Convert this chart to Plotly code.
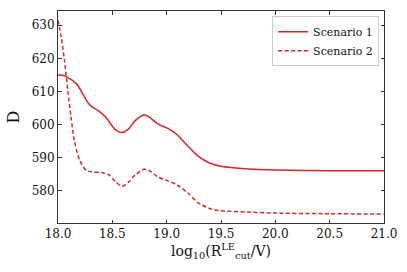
import plotly.graph_objects as go

x1 = [18.0, 18.04, 18.08, 18.17, 18.29, 18.38, 18.44, 18.53, 18.59, 18.65, 18.71, 18.79, 18.83, 18.92, 19.0, 19.08, 19.17, 19.29, 19.39, 19.5, 19.75, 20.0, 20.5, 21.0]
y1 = [615.0, 614.9, 614.4, 612.3, 606.0, 604.0, 602.2, 598.4, 597.6, 598.7, 601.2, 602.9, 602.5, 600.2, 599.0, 597.4, 594.4, 590.5, 588.5, 587.4, 586.6, 586.3, 586.1, 586.1]

x2 = [18.0, 18.03, 18.06, 18.09, 18.12, 18.15, 18.2, 18.26, 18.32, 18.41, 18.47, 18.53, 18.59, 18.65, 18.71, 18.79, 18.83, 18.92, 19.0, 19.1, 19.2, 19.29, 19.42, 19.5, 19.75, 20.0, 20.5, 21.0]
y2 = [631.5, 626.3, 619.3, 610.3, 602.2, 595.3, 589.2, 586.2, 585.7, 585.5, 584.8, 582.7, 581.4, 582.7, 584.8, 586.5, 586.3, 584.2, 583.2, 581.7, 579.2, 576.4, 574.4, 574.0, 573.6, 573.3, 573.1, 573.0]

names = ["Scenario 1", "Scenario 2"]
red = "#d62728"
font = "DejaVu Serif"

fig = go.Figure()
fig.add_trace(go.Scatter(x=x1, y=y1, mode="lines", name=names[0],
                         line=dict(color=red, width=1.5, shape="spline", smoothing=0.8)))
fig.add_trace(go.Scatter(x=x2, y=y2, mode="lines", name=names[1],
                         line=dict(color=red, width=1.5, dash="4px,2.5px", shape="spline", smoothing=0.8)))

axis_common = dict(showgrid=False, zeroline=False, showline=True, linecolor="#333333", linewidth=1,
                   mirror="ticks", ticks="inside", ticklen=3.5, tickwidth=0.8, tickcolor="#333333",
                   tickfont=dict(family=font, size=12, color="#111111"))

fig.update_layout(
    width=407, height=272,
    margin=dict(l=58, r=21, t=10, b=49),
    paper_bgcolor="white", plot_bgcolor="white",
    font=dict(family=font, color="#111111"),
    xaxis=dict(range=[18.0, 21.0], tickvals=[18.0, 18.5, 19.0, 19.5, 20.0, 20.5, 21.0],
               tickformat=".1f",
               title=dict(text="log<sub>10</sub>(R<sup>LE</sup><sub>cut</sub>/V)", font=dict(family=font, size=14), standoff=4),
               **axis_common),
    yaxis=dict(range=[570.3, 634.3], tickvals=[580, 590, 600, 610, 620, 630],
               title=dict(text="D", font=dict(family=font, size=16), standoff=8),
               **axis_common),
    legend=dict(x=0.985, y=0.975, xanchor="right", yanchor="top",
                bgcolor="rgba(255,255,255,0.8)", bordercolor="#cccccc", borderwidth=1,
                font=dict(family=font, size=11), tracegroupgap=0, itemwidth=30),
    showlegend=True,
)

fig.write_html("out.html", config={"displayModeBar": False},
               post_script="document.body.style.margin='0';")
